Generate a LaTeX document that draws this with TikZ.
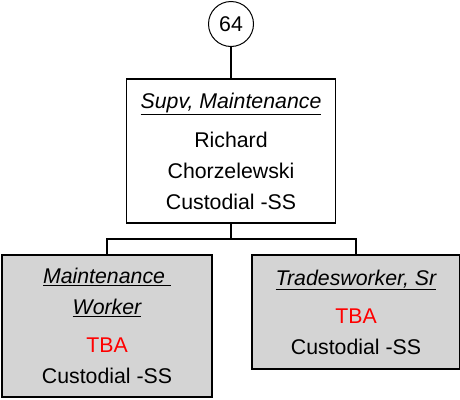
\documentclass[tikz,border=0pt]{standalone}
\usepackage{fontspec}
\setmainfont{Liberation Sans}
\usepackage{xcolor}
\usepackage{tikz}
\definecolor{boxgray}{RGB}{212,212,212}
\newcommand{\ttl}[1]{\textit{\underline{#1}}}

\begin{document}
\begin{tikzpicture}[x=1pt, y=-1pt,
  bx/.style={draw, line width=1.2pt, align=center, inner sep=0pt,
             font=\fontsize{21.3}{31}\selectfont},
  gbx/.style={bx, fill=boxgray, line width=1.6pt},
  cn/.style={line width=1.2pt}]
\useasboundingbox (0,0) rectangle (460,399);
\node[draw, circle, line width=1pt, minimum size=45pt, inner sep=0pt,
      font=\fontsize{21.3}{26}\selectfont] (num) at (231,24) {64};
\node[bx, minimum width=209pt, minimum height=144pt] (supv) at (231,151)
  {\ttl{Supv, Maintenance}\\[8pt] Richard\\ Chorzelewski\\ Custodial -SS};
\node[gbx, minimum width=210pt, minimum height=142pt] (mw) at (107,326)
  {\ttl{Maintenance\ }\\ \ttl{Worker}\\[7pt] \textcolor{red}{TBA}\\ Custodial -SS};
\node[gbx, minimum width=208pt, minimum height=114pt] (tw) at (356,312)
  {\ttl{Tradesworker, Sr}\\[7pt] \textcolor{red}{TBA}\\ Custodial -SS};
\coordinate (bus) at (231,239);
\draw[cn] (num) -- (supv);
\draw[cn] (supv.south) -- (bus);
\draw[cn] (bus) -| (mw.north);
\draw[cn] (bus) -| (tw.north);
\end{tikzpicture}
\end{document}
